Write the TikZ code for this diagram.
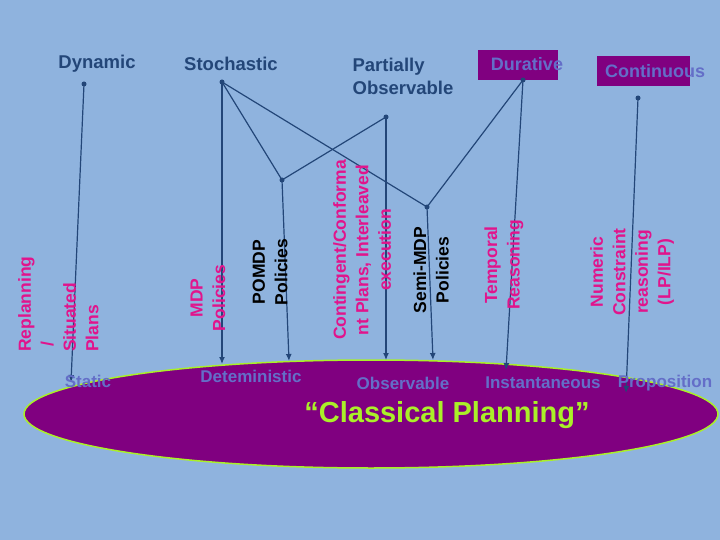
\documentclass[tikz,border=0pt]{standalone}
\usepackage{fontspec}
\setmainfont{Liberation Sans}
\usetikzlibrary{arrows.meta,shapes.geometric}
\definecolor{skyback}{RGB}{143,179,222}
\definecolor{plum}{RGB}{128,0,128}
\definecolor{lime}{RGB}{170,240,40}
\definecolor{navy}{RGB}{35,70,120}
\definecolor{pale}{RGB}{100,110,200}
\definecolor{pinky}{RGB}{225,20,140}
\tikzset{
toplabel/.style={font=\bfseries\fontsize{18.5}{23}\selectfont, text=navy, align=left, inner sep=0pt},
boxlabel/.style={fill=plum, minimum height=30pt, inner sep=4pt},
boxtext/.style={text=pale, font=\bfseries\fontsize{18}{20}\selectfont, inner sep=0pt},
sidelabel/.style={rotate=90, font=\bfseries\fontsize{17.5}{22.5}\selectfont, text=pinky, align=center, inner sep=0pt},
darklabel/.style={sidelabel, text=black},
baselabel/.style={font=\bfseries\fontsize{17}{19}\selectfont, text=pale, inner sep=0pt},
link/.style={draw=navy, line width=1.2pt},
>={Latex[width=6pt,length=7pt]}
}
\begin{document}
\begin{tikzpicture}[x=1pt, y=-1pt]
\fill[skyback] (0,0) rectangle (720,540);
\useasboundingbox (0,0) rectangle (720,540);

%Classical planning ellipse
\node[ellipse, fill=plum, draw=lime, line width=1.5pt, minimum width=694pt, minimum height=108pt] (classic) at (371,414) {};

%Top labels
\node[toplabel] (dynamic) at (97,64) {Dynamic};
\node[toplabel] (stochastic) at (231,64) {Stochastic};
\node[toplabel] (partial) at (403,76) {Partially\\Observable};
\node[boxlabel, minimum width=80pt] (durative) at (518,65) {};
\node[boxtext] at (527,64) {Durative};
\node[boxlabel, minimum width=93pt] (continuous) at (643,71) {};
\node[boxtext] at (655,71) {Continuous};

%Branch points
\coordinate (dynP) at (84,84);
\coordinate (stoP) at (222,82);
\coordinate (parP) at (386,117);
\coordinate (durP) at (523,80);
\coordinate (conP) at (638,98);
\coordinate (pomP) at (282,180);
\coordinate (smdP) at (427,207);
\foreach \p in {dynP,stoP,parP,durP,conP,pomP,smdP}
  \fill[navy] (\p) circle (2.5pt);

%Connectors
\coordinate (dynE) at (71,382);
\coordinate (stoE) at (222,364);
\coordinate (parE) at (386,360);
\coordinate (durE) at (506,370);
\coordinate (conE) at (626,393);
\coordinate (pomE) at (289,361);
\coordinate (smdE) at (433,360);
\draw[link,->] (dynP) -- (dynE);
\draw[link,->] (stoP) -- (stoE);
\draw[link] (stoP) -- (pomP) -- (parP);
\draw[link] (stoP) -- (smdP) -- (durP);
\draw[link,->] (parP) -- (parE);
\draw[link,->] (durP) -- (durE);
\draw[link,->] (conP) -- (conE);
\draw[link,->] (pomP) -- (pomE);
\draw[link,->] (smdP) -- (smdE);

%Rotated labels
\node[sidelabel, anchor=north west, align=left] (replan) at (18,352) {Replanning\\\;/\\Situated\\Plans};
\node[sidelabel] (mdp) at (208,298) {MDP\\Policies};
\node[darklabel] (pomdp) at (270,272) {POMDP\\Policies};
\node[sidelabel] (conting) at (362,250) {Contingent/Conforma\\nt Plans, Interleaved\\execution};
\node[darklabel] (semi) at (431,270) {Semi-MDP\\Policies};
\node[sidelabel] (temporal) at (504,265) {Temporal\\Reasoning};
\node[sidelabel] (numeric) at (632,272) {Numeric\\Constraint\\reasoning\\(LP/ILP)};

%Bottom labels
\node[baselabel] (static) at (88,381) {Static};
\node[baselabel] (determ) at (251,376) {Deteministic};
\node[baselabel] (observ) at (403,383) {Observable};
\node[baselabel] (instant) at (543,383) {Instantaneous};
\node[baselabel] (propos) at (665,383) {Proposition};
\node[text=lime, font=\bfseries\fontsize{29}{32}\selectfont] (cplan) at (447,415) {“Classical Planning”};
\end{tikzpicture}
\end{document}
